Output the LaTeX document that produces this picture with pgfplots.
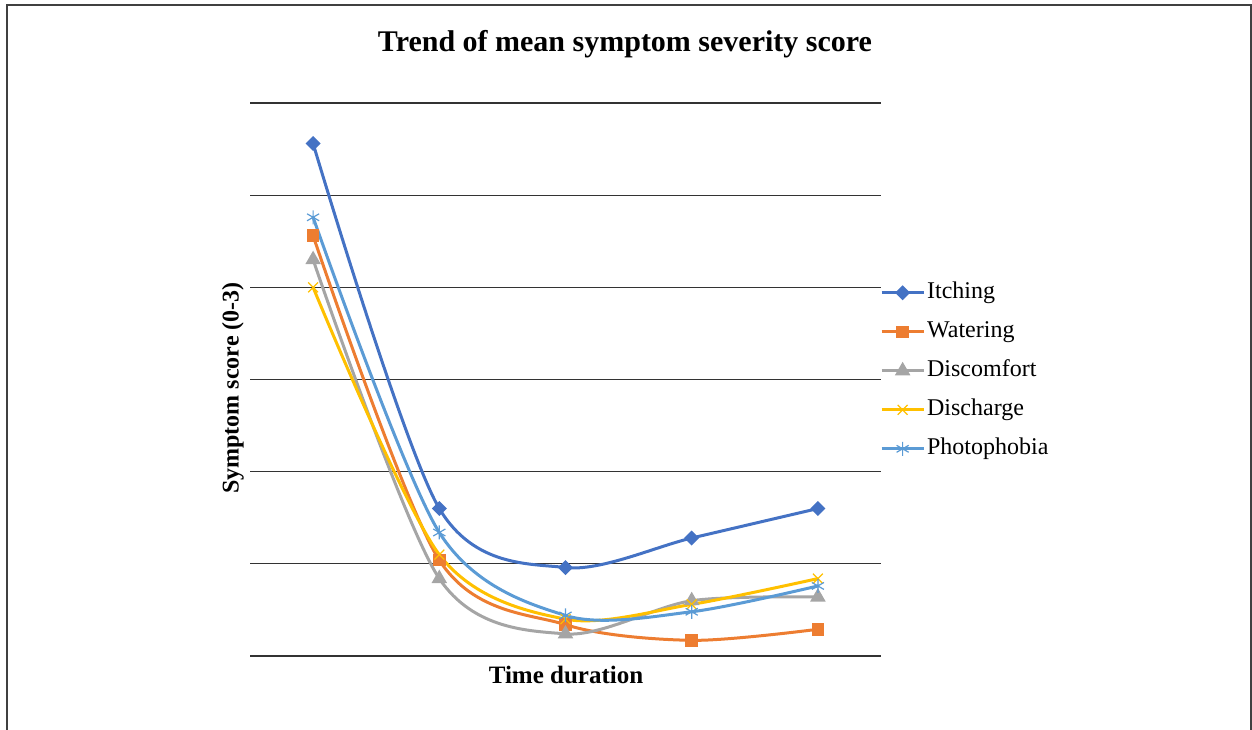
\documentclass[border=0pt]{standalone}
\usepackage{pgfplots}
\pgfplotsset{compat=1.18}
\usepackage{fontspec}
\setmainfont{Liberation Serif}
\definecolor{cItch}{HTML}{4472C4}
\definecolor{cWat}{HTML}{ED7D31}
\definecolor{cDis}{HTML}{A5A5A5}
\definecolor{cDch}{HTML}{FFC000}
\definecolor{cPho}{HTML}{5B9BD5}
\begin{document}
\begin{tikzpicture}[x=0.5pt,y=0.5pt]
\useasboundingbox (0,0) rectangle (1252,729);
% outer frame
\draw[black!75, line width=1pt] (7,-5) -- (7,724) -- (1250.5,724) -- (1250.5,-5);
\begin{axis}[
  at={(125pt,36.5pt)}, anchor=south west,
  scale only axis, width=315.5pt, height=276.5pt,
  xmin=0.5, xmax=5.5, ymin=0, ymax=3,
  xtick=\empty, ytick={0,0.5,...,3}, yticklabels={},
  major tick length=0pt,
  axis line style={draw=none},
  ymajorgrids, grid style={black!80, line width=0.55pt},
  clip=false,
  legend cell align=left,
  legend style={draw=none, fill=none, at={(0.998,0.681)}, anchor=north west,
    font=\fontsize{12}{14}\selectfont, inner sep=0pt, row sep=6.5pt,
    nodes={text height=8.5pt, text depth=2.5pt, inner sep=1pt}},
  legend image post style={line width=1.5pt},
  /pgfplots/legend image code/.code={\draw[#1] (0pt,0pt) -- (10.5pt,0pt) plot coordinates {(10.5pt,0pt)} -- (21pt,0pt);},
  every axis plot/.append style={line width=1.5pt, smooth, tension=0.5},
]
\addplot[color=cItch, mark=square*, mark size=1.9pt, mark options={rotate=45}] coordinates {(1,2.78) (2,0.80) (3,0.48) (4,0.64) (5,0.80)};
\addlegendentry{Itching}
\addplot[color=cWat, mark=square*, mark size=2.4pt] coordinates {(1,2.28) (2,0.52) (3,0.17) (4,0.085) (5,0.145)};
\addlegendentry{Watering}
\addplot[color=cDis, mark=triangle*, mark size=3pt] coordinates {(1,2.15) (2,0.42) (3,0.12) (4,0.30) (5,0.32)};
\addlegendentry{Discomfort}
\addplot[color=cDch, mark=x, mark size=3.5pt, mark options={line width=0.6pt}] coordinates {(1,2.0) (2,0.55) (3,0.20) (4,0.28) (5,0.42)};
\addlegendentry{Discharge}
\addplot[color=cPho, mark=asterisk, mark size=3.5pt, mark options={line width=0.6pt}] coordinates {(1,2.38) (2,0.67) (3,0.22) (4,0.24) (5,0.38)};
\addlegendentry{Photophobia}
\end{axis}
\node[font=\bfseries\fontsize{15}{18}\selectfont] at (625,685) {Trend of mean symptom severity score};
\node[font=\bfseries\fontsize{12.5}{15}\selectfont] at (566,54) {Time duration};
\node[font=\bfseries\fontsize{12}{14}\selectfont, rotate=90] at (233,341) {Symptom score (0-3)};
\end{tikzpicture}
\end{document}
